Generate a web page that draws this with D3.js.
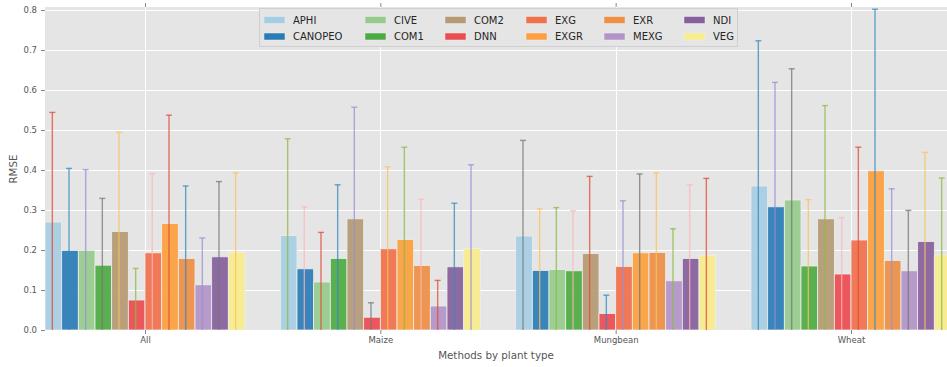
<!DOCTYPE html>
<html>
<head>
<meta charset="utf-8">
<script src="https://cdn.jsdelivr.net/npm/d3@7/dist/d3.min.js"></script>
<style>
  body { margin: 0; background: #fff; }
  svg { display: block; font-family: "DejaVu Sans", sans-serif; }
</style>
</head>
<body>
<div id="chart"></div>
<script>
// plant types on the x axis and the methods (one bar each)
var categories = ['All', 'Maize', 'Mungbean', 'Wheat'];
var methods = ['APHI', 'CANOPEO', 'CIVE', 'COM1', 'COM2', 'DNN', 'EXG', 'EXGR', 'EXR', 'MEXG', 'NDI', 'VEG'];

// RMSE per method, one array per plant type
var rmseAll = [0.270, 0.199, 0.199, 0.162, 0.246, 0.075, 0.193, 0.266, 0.179, 0.113, 0.183, 0.194];
var rmseMaize = [0.236, 0.153, 0.120, 0.179, 0.278, 0.032, 0.203, 0.226, 0.161, 0.060, 0.158, 0.204];
var rmseMungbean = [0.235, 0.149, 0.151, 0.148, 0.191, 0.041, 0.159, 0.193, 0.194, 0.123, 0.179, 0.187];
var rmseWheat = [0.360, 0.308, 0.325, 0.160, 0.278, 0.140, 0.225, 0.398, 0.174, 0.148, 0.221, 0.188];

// error bar sizes
var errAll = [0.274, 0.205, 0.202, 0.167, 0.248, 0.079, 0.198, 0.271, 0.181, 0.117, 0.188, 0.199];
var errMaize = [0.242, 0.155, 0.124, 0.184, 0.279, 0.036, 0.205, 0.231, 0.166, 0.064, 0.159, 0.209];
var errMungbean = [0.239, 0.154, 0.155, 0.150, 0.193, 0.046, 0.164, 0.197, 0.199, 0.130, 0.184, 0.192];
var errWheat = [0.363, 0.311, 0.328, 0.166, 0.283, 0.141, 0.232, 0.404, 0.179, 0.151, 0.223, 0.192];

var yTicks = [0, 0.1, 0.2, 0.3, 0.4, 0.5, 0.6, 0.7, 0.8];

var barColors = ['#a6cee3', '#2a7cb6', '#96cb8c', '#4eab42', '#b59a74', '#ec4b50', '#f1714b', '#fd9f3e', '#ee8f45', '#b294c8', '#85609c', '#f8ed8c'];
var errColors = ['#E24A33', '#348ABD', '#988ED5', '#777777', '#FBC15E', '#8EBA42', '#FFB5B8'];

var rmse = [rmseAll, rmseMaize, rmseMungbean, rmseWheat];
var errs = [errAll, errMaize, errMungbean, errWheat];

var width = 947, height = 367;
var margin = {top: 7, left: 45, bottom: 37};
var plotRight = 960;

var svg = d3.select('#chart').append('svg')
	.attr('width', width)
	.attr('height', height);

var x = d3.scalePoint()
	.domain(categories)
	.range([145, 851]);

var xInner = d3.scaleBand()
	.domain(methods)
	.range([-100, 100]);

var y = d3.scaleLinear()
	.domain([0, 0.8075])
	.range([height - margin.bottom, margin.top]);

svg.append('clipPath')
	.attr('id', 'plotclip')
	.append('rect')
	.attr('x', margin.left)
	.attr('y', margin.top)
	.attr('width', plotRight - margin.left)
	.attr('height', y(0) - margin.top);

svg.append('rect')
	.attr('x', margin.left)
	.attr('y', margin.top)
	.attr('width', plotRight - margin.left)
	.attr('height', y(0) - margin.top)
	.attr('fill', '#e5e5e5');

// grid
var grid = svg.append('g').attr('stroke', '#ffffff').attr('stroke-width', 1);
grid.selectAll('line.h')
	.data(yTicks)
	.enter().append('line')
	.attr('x1', margin.left).attr('x2', plotRight)
	.attr('y1', d => Math.round(y(d)) + 0.5).attr('y2', d => Math.round(y(d)) + 0.5);
grid.selectAll('line.v')
	.data(categories)
	.enter().append('line')
	.attr('x1', d => Math.round(x(d)) + 0.5).attr('x2', d => Math.round(x(d)) + 0.5)
	.attr('y1', margin.top).attr('y2', y(0));

var plot = svg.append('g').attr('clip-path', 'url(#plotclip)');

// bars
categories.forEach(function(cat, ci) {
	var g = plot.append('g');
	g.selectAll('rect')
		.data(methods)
		.enter().append('rect')
		.attr('x', m => x(cat) + xInner(m))
		.attr('width', xInner.bandwidth())
		.attr('y', (m, i) => y(rmse[ci][i]))
		.attr('height', (m, i) => y(0) - y(rmse[ci][i]))
		.attr('fill', (m, i) => barColors[i])
		.attr('fill-opacity', 0.92)
		.attr('stroke', '#eeeeee')
		.attr('stroke-width', 0.8);
});

// error bars, colours cycle through the whole chart
categories.forEach(function(cat, ci) {
	methods.forEach(function(m, i) {
		var cx = x(cat) + xInner(m) + xInner.bandwidth() / 2 - 1;
		var col = errColors[(ci * methods.length + i) % errColors.length];
		var top = y(rmse[ci][i] + errs[ci][i]);
		var eb = plot.append('g')
			.attr('stroke', col)
			.attr('stroke-opacity', 0.75)
			.attr('stroke-width', 1.4);
		eb.append('line')
			.attr('x1', cx).attr('x2', cx)
			.attr('y1', y(rmse[ci][i] - errs[ci][i])).attr('y2', top);
		eb.append('line')
			.attr('x1', cx - 3).attr('x2', cx + 3)
			.attr('y1', top).attr('y2', top);
	});
});

// axes
var yAxis = svg.append('g')
	.attr('transform', `translate(${margin.left},0)`)
	.call(d3.axisLeft(y).tickValues(yTicks).tickSize(4).tickPadding(4).tickFormat(d3.format('.1f')));
yAxis.select('.domain').remove();

var xAxis = svg.append('g')
	.attr('transform', `translate(0,${y(0)})`)
	.call(d3.axisBottom(x).tickSize(4).tickPadding(3));
xAxis.select('.domain').remove();

var xTop = svg.append('g')
	.attr('transform', `translate(0,${margin.top})`)
	.call(d3.axisTop(x).tickSize(4).tickFormat(''));
xTop.select('.domain').remove();

svg.selectAll('.tick line').attr('stroke', '#888888');
svg.selectAll('.tick text')
	.attr('fill', '#555555')
	.style('font-family', '"DejaVu Sans", sans-serif')
	.style('font-size', '8.5px');

svg.append('text')
	.attr('x', 496)
	.attr('y', 359)
	.attr('text-anchor', 'middle')
	.attr('fill', '#555555')
	.style('font-size', '10.3px')
	.text('Methods by plant type');

svg.append('text')
	.attr('transform', 'translate(17,169) rotate(-90)')
	.attr('text-anchor', 'middle')
	.attr('fill', '#555555')
	.style('font-size', '10.3px')
	.text('RMSE');

// legend
var legendCols = [293, 394, 474, 555, 633, 713];
var legend = svg.append('g');
legend.append('rect')
	.attr('x', 259.5).attr('y', 8.5)
	.attr('width', 478).attr('height', 38)
	.attr('fill', '#e5e5e5')
	.attr('stroke', '#cfcfcf')
	.attr('stroke-width', 1);
var item = legend.selectAll('g.item')
	.data(methods)
	.enter().append('g')
	.attr('transform', (m, i) => `translate(${legendCols[Math.floor(i / 2)]},${i % 2 === 0 ? 20 : 36.5})`);
item.append('rect')
	.attr('x', -29).attr('y', -3.5)
	.attr('width', 21).attr('height', 7)
	.attr('fill', (m, i) => barColors[i])
	.attr('stroke', '#eeeeee')
	.attr('stroke-width', 0.5);
item.append('text')
	.attr('x', 0).attr('y', 3.6)
	.attr('fill', '#262626')
	.style('font-size', '10px')
	.text(m => m);
</script>
</body>
</html>
